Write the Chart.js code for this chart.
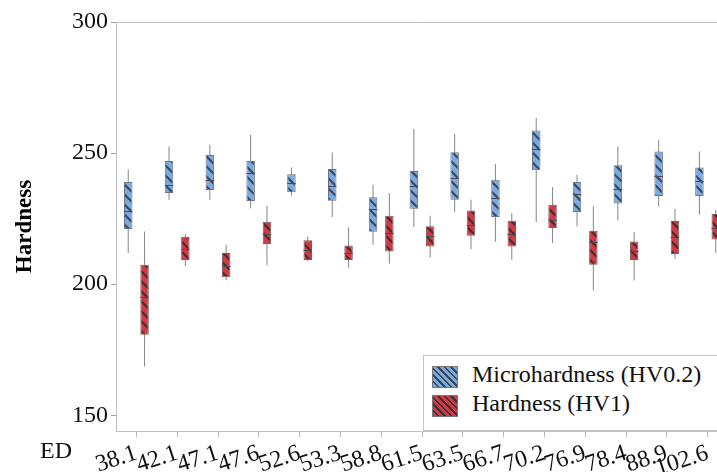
<!DOCTYPE html>
<html>
<head>
<meta charset="utf-8">
<script src="https://cdn.jsdelivr.net/npm/chart.js@4.4.1/dist/chart.umd.min.js"></script>
<style>
  html, body { margin: 0; padding: 0; background: #fff; overflow: hidden; }
  #wrap { position: relative; width: 730px; height: 472px; }
  #legend { position: absolute; left: 423px; top: 355px; width: 320px; height: 76px; box-sizing: border-box;
            border: 1px solid #c4c4c4; background: #fff; font-family: "Liberation Serif", serif; }
  .sw { position: absolute; left: 8px; width: 26px; height: 22px; box-sizing: border-box; border: 1px solid #777; }
  .lt { position: absolute; left: 48px; font-size: 24px; line-height: 28px; color: #111; white-space: nowrap; }
  #ed { position: absolute; left: 40px; top: 438px; font-family: "Liberation Serif", serif; font-size: 24px; line-height: 24px; color: #111; }
</style>
</head>
<body>
<div id="wrap">
  <canvas id="c" width="730" height="472"></canvas>
  <div id="legend">
    <div class="sw" style="top:10px;background:repeating-linear-gradient(45deg,#7aaae2 0px,#7aaae2 3px,#3d4550 3px,#3d4550 4.6px);"></div>
    <div class="lt" style="top:3.5px;">Microhardness (HV0.2)</div>
    <div class="sw" style="top:39px;background:repeating-linear-gradient(45deg,#cf3a44 0px,#cf3a44 3px,#3d3034 3px,#3d3034 4.6px);"></div>
    <div class="lt" style="top:32.5px;">Hardness (HV1)</div>
  </div>
  <div id="ed">ED</div>
</div>
<script>
const categories = ['38.1','42.1','47.1','47.6','52.6','53.3','58.8','61.5','63.5','66.7','70.2','76.9','78.4','88.9','102.6'];

const microMin = [211.9, 232.2, 232.2, 228.9, 233.7, 225.6, 215.0, 221.8, 227.5, 216.3, 223.7, 222.1, 224.3, 229.7, 226.5];
const microQ1  = [221.0, 234.8, 235.9, 231.7, 235.1, 231.8, 220.0, 228.8, 232.2, 225.6, 243.5, 227.5, 230.8, 233.6, 233.6];
const microMed = [228.0, 237.9, 239.8, 242.4, 238.6, 237.6, 228.8, 237.6, 240.5, 232.7, 251.5, 234.5, 236.3, 241.2, 239.2];
const microQ3  = [239.0, 247.0, 249.3, 247.0, 241.9, 243.9, 233.2, 243.2, 250.3, 239.8, 258.6, 239.0, 245.4, 250.6, 244.5];
const microMax = [243.7, 252.5, 253.2, 257.0, 244.5, 250.2, 237.9, 259.2, 257.3, 245.8, 263.4, 241.7, 252.5, 255.1, 250.6];

const hardMin = [168.6, 206.8, 201.6, 207.2, 208.7, 206.4, 207.8, 210.2, 213.4, 209.3, 215.7, 197.6, 201.4, 209.6, 212.0];
const hardQ1  = [180.7, 209.2, 202.6, 215.3, 209.2, 209.2, 212.5, 214.4, 218.5, 214.4, 221.4, 207.4, 209.2, 211.5, 217.0];
const hardMed = [195.0, 213.5, 207.0, 219.0, 212.9, 211.9, 219.5, 218.2, 222.5, 219.0, 224.3, 215.9, 212.5, 218.0, 221.5];
const hardQ3  = [207.4, 218.1, 211.9, 223.8, 216.8, 214.8, 226.1, 222.1, 228.1, 224.2, 230.3, 220.4, 216.3, 224.1, 226.8];
const hardMax = [220.1, 219.0, 215.0, 229.9, 218.2, 221.6, 234.8, 226.1, 232.2, 227.1, 237.1, 229.7, 219.9, 228.7, 228.4];

const yTicks = [150, 200, 250, 300];

function hatch(bg, line) {
  const s = 10;
  const t = document.createElement('canvas');
  t.width = s; t.height = s;
  const g = t.getContext('2d');
  g.fillStyle = bg; g.fillRect(0, 0, s, s);
  g.strokeStyle = line; g.lineWidth = 2;
  g.beginPath();
  g.moveTo(-2, -2); g.lineTo(s + 2, s + 2);
  g.moveTo(-2, s - 2); g.lineTo(2, s + 2);
  g.moveTo(s - 2, -2); g.lineTo(s + 2, 2);
  g.stroke();
  return g.createPattern(t, 'repeat');
}
const ctx = document.getElementById('c').getContext('2d');
const bluePat = hatch('#7aaae2', '#3d4550');
const redPat = hatch('#cf3a44', '#3d3034');

const zip = (a, b) => a.map((v, i) => [v, b[i]]);

const medianPlugin = {
  id: 'medians',
  afterDatasetsDraw(chart) {
    const y = chart.scales.y;
    const c = chart.ctx;
    c.save();
    c.strokeStyle = '#4a4a52';
    c.lineWidth = 1;
    chart.data.datasets.forEach((ds, i) => {
      if (!ds.medians) return;
      const meta = chart.getDatasetMeta(i);
      meta.data.forEach((bar, j) => {
        const py = Math.round(y.getPixelForValue(ds.medians[j])) + 0.5;
        c.beginPath();
        c.moveTo(bar.x - bar.width / 2, py);
        c.lineTo(bar.x + bar.width / 2, py);
        c.stroke();
      });
    });
    c.restore();
  }
};

const serif = '"Liberation Serif", serif';

new Chart(ctx, {
  type: 'bar',
  data: {
    labels: categories,
    datasets: [
      { label: 'Microhardness (HV0.2)', data: zip(microQ1, microQ3), medians: microMed, stack: 'a',
        backgroundColor: bluePat, borderColor: '#6a7482', borderWidth: 1, borderSkipped: false,
        categoryPercentage: 0.8, barPercentage: 0.52 },
      { label: 'Hardness (HV1)', data: zip(hardQ1, hardQ3), medians: hardMed, stack: 'b',
        backgroundColor: redPat, borderColor: '#7a5a5c', borderWidth: 1, borderSkipped: false,
        categoryPercentage: 0.8, barPercentage: 0.52 },
      { label: 'mw', data: zip(microMin, microMax), stack: 'a', backgroundColor: '#8c8c8c', borderWidth: 0,
        categoryPercentage: 0.8, barPercentage: 0.065 },
      { label: 'hw', data: zip(hardMin, hardMax), stack: 'b', backgroundColor: '#8c8c8c', borderWidth: 0,
        categoryPercentage: 0.8, barPercentage: 0.065 }
    ]
  },
  options: {
    responsive: false,
    animation: false,
    events: [],
    layout: { padding: { top: 22, right: 2, left: 0, bottom: 0 } },
    plugins: { legend: { display: false }, tooltip: { enabled: false } },
    scales: {
      x: {
        stacked: true,
        offset: true,
        grid: { drawOnChartArea: false, offset: false, tickLength: 6, tickColor: '#b8b8b8' },
        border: { display: true, color: '#c0c0c0' },
        ticks: { autoSkip: false, minRotation: 18, maxRotation: 18, padding: 2, color: '#111',
                 font: { family: serif, size: 24 } },
        afterFit(s) { s.height = 41; }
      },
      y: {
        stacked: false,
        min: 144, max: 300,
        afterBuildTicks(s) { s.ticks = yTicks.map(v => ({ value: v })); },
        grid: { drawOnChartArea: true, tickLength: 5, tickColor: '#a0a0a0',
                color: c => (c.tick && c.tick.value === 300) ? '#c0c0c0' : 'rgba(0,0,0,0)' },
        border: { display: true, color: '#c0c0c0' },
        ticks: { padding: 3, color: '#111', font: { family: serif, size: 24 } },
        title: { display: true, text: 'Hardness', color: '#000', padding: { top: 11, bottom: 0 },
                 font: { family: serif, size: 23, weight: 'bold' } },
        afterFit(s) { s.width = 116; }
      }
    }
  },
  plugins: [medianPlugin]
});
</script>
</body>
</html>
